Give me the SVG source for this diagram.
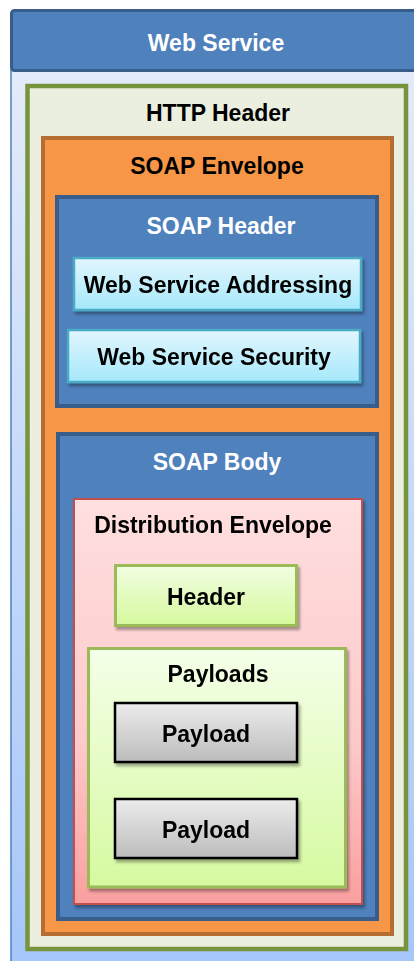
<svg xmlns="http://www.w3.org/2000/svg" width="414" height="961" viewBox="0 0 414 961">
  <defs>
    <linearGradient id="gBg" x1="0" y1="0" x2="0" y2="1">
      <stop offset="0" stop-color="#e3ebfa"/>
      <stop offset="1" stop-color="#a6c6fa"/>
    </linearGradient>
    <linearGradient id="gCyan" x1="0" y1="0" x2="0" y2="1">
      <stop offset="0" stop-color="#e2f6fd"/>
      <stop offset="1" stop-color="#a5e8fb"/>
    </linearGradient>
    <linearGradient id="gPink" x1="0" y1="0" x2="0" y2="1">
      <stop offset="0" stop-color="#ffdfdf"/>
      <stop offset="0.6" stop-color="#fdcaca"/>
      <stop offset="1" stop-color="#fa9f9f"/>
    </linearGradient>
    <linearGradient id="gLime" x1="0" y1="0" x2="0" y2="1">
      <stop offset="0" stop-color="#f1fde2"/>
      <stop offset="1" stop-color="#d6f99d"/>
    </linearGradient>
    <linearGradient id="gLime2" x1="0" y1="0" x2="0" y2="1">
      <stop offset="0" stop-color="#f4ffe8"/>
      <stop offset="1" stop-color="#d6f9a0"/>
    </linearGradient>
    <linearGradient id="gGrey" x1="0" y1="0" x2="0" y2="1">
      <stop offset="0" stop-color="#ececec"/>
      <stop offset="1" stop-color="#bcbcbc"/>
    </linearGradient>
    <filter id="shadow" x="-10%" y="-10%" width="125%" height="130%">
      <feDropShadow dx="2" dy="3" stdDeviation="1.8" flood-color="#000" flood-opacity="0.35"/>
    </filter>
  </defs>
  <style>
    text { font-family: "Liberation Sans", Arial, sans-serif; font-weight: bold; font-size: 23px; text-anchor: middle; }
    .light { fill: #ffffff; }
    .dark { fill: #000000; }
    .blueBox { fill: #4f81bd; stroke: #385d8a; stroke-width: 4; }
    .cyanBox { fill: url(#gCyan); stroke: #4bacc6; stroke-width: 2.5; }
    .limeBox { stroke: #9bbb59; stroke-width: 3; }
    .greyBox { fill: url(#gGrey); stroke: #000; stroke-width: 2.5; }
  </style>

  <rect x="0" y="0" width="414" height="961" fill="#ffffff"/>

  <!-- Web Service container -->
  <g id="web-service">
    <rect x="11" y="70" width="420" height="900" fill="url(#gBg)" stroke="#4f81bd" stroke-width="1.5"/>
    <rect x="11.5" y="10.5" width="420" height="60" rx="3" fill="#4f81bd" stroke="#385d8a" stroke-width="3"/>
    <text class="light" x="216" y="51">Web Service</text>
  </g>

  <!-- HTTP Header -->
  <g id="http-header">
    <rect x="27.5" y="86" width="378.5" height="863" fill="#ebefdf" stroke="#77933c" stroke-width="4.5"/>
    <text class="dark" x="218" y="121">HTTP Header</text>
  </g>

  <!-- SOAP Envelope -->
  <g id="soap-envelope">
    <rect x="43" y="138" width="349" height="796" fill="#f79646" stroke="#b66d31" stroke-width="4"/>
    <text class="dark" x="217" y="174">SOAP Envelope</text>
  </g>

  <!-- SOAP Header -->
  <g id="soap-header">
    <rect class="blueBox" x="57" y="197" width="320" height="209"/>
    <text class="light" x="221" y="234">SOAP Header</text>
  </g>

  <g id="ws-addressing" filter="url(#shadow)">
    <rect class="cyanBox" x="74" y="258" width="287" height="52"/>
    <text class="dark" x="218" y="293">Web Service Addressing</text>
  </g>

  <g id="ws-security" filter="url(#shadow)">
    <rect class="cyanBox" x="68" y="330" width="292" height="52"/>
    <text class="dark" x="214" y="365">Web Service Security</text>
  </g>

  <!-- SOAP Body -->
  <g id="soap-body">
    <rect class="blueBox" x="58" y="434" width="319" height="485"/>
    <text class="light" x="217" y="470">SOAP Body</text>
  </g>

  <!-- Distribution Envelope -->
  <g id="distribution-envelope" filter="url(#shadow)">
    <rect x="74" y="499" width="288" height="405" fill="url(#gPink)" stroke="#c0504d" stroke-width="2"/>
    <text class="dark" x="213" y="533">Distribution Envelope</text>
  </g>

  <g id="header" filter="url(#shadow)">
    <rect class="limeBox" x="115.5" y="565.5" width="181" height="60" fill="url(#gLime)"/>
    <text class="dark" x="206" y="605">Header</text>
  </g>

  <g id="payloads" filter="url(#shadow)">
    <rect class="limeBox" x="88.5" y="648.5" width="257" height="238.5" fill="url(#gLime2)"/>
    <text class="dark" x="218" y="682">Payloads</text>
  </g>

  <g id="payload-1" filter="url(#shadow)">
    <rect class="greyBox" x="115" y="703" width="182" height="59"/>
    <text class="dark" x="206" y="742">Payload</text>
  </g>

  <g id="payload-2" filter="url(#shadow)">
    <rect class="greyBox" x="115" y="799" width="182" height="59"/>
    <text class="dark" x="206" y="838">Payload</text>
  </g>

  <g id="connectors"/>
</svg>
